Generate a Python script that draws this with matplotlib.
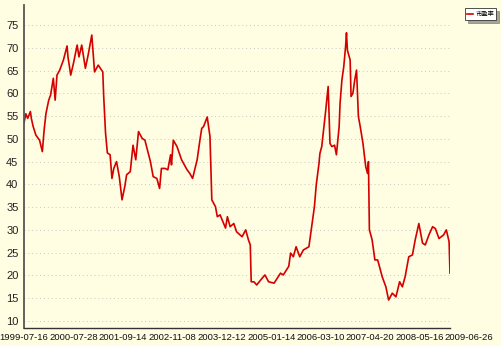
import numpy as np
import matplotlib
matplotlib.use("Agg")
import matplotlib.pyplot as plt

obs = [0, 2, 4, 7, 8, 10, 13, 17, 20, 22, 24, 27, 29, 32, 34, 36, 39, 43, 47, 48,
       51, 54, 58, 60, 63, 67, 70, 74, 77, 81, 86, 87, 89, 91, 94, 96, 98, 101, 104, 107,
       110, 112, 116, 119, 122, 125, 129, 132, 138, 141, 145, 148, 150, 154, 157, 160, 161, 163, 167, 172,
       178, 181, 184, 189, 192, 194, 196, 200, 203, 205, 209, 211, 214, 220, 222, 225, 229, 232, 238, 242,
       245, 247, 248, 251, 254, 260, 263, 267, 273, 280, 283, 289, 291, 294, 297, 301, 305, 311, 314, 317,
       319, 322, 323, 325, 327, 329, 332, 333, 334, 336, 339, 341, 344, 345, 347, 349, 351, 352, 353, 356,
       357, 359, 361, 363, 365, 367, 370, 373, 375, 376, 377, 378, 380, 383, 386, 387, 391, 395, 398, 402,
       406, 410, 413, 416, 420, 424, 427, 431, 435, 438, 442, 446, 449, 453, 458, 461, 464, 465]
pe = [53.5, 55.5, 54.5, 56.0, 54.5, 52.7, 50.8, 49.7, 47.2, 52.0, 55.6, 58.5, 59.6, 63.3, 58.5, 64.0, 65.1, 67.3, 70.4, 68.0,
      64.0, 66.6, 70.6, 68.0, 70.6, 65.5, 68.4, 72.8, 64.7, 66.2, 64.7, 59.3, 51.3, 46.9, 46.5, 41.3, 43.5, 45.0, 41.7, 36.6,
      39.5, 42.1, 42.8, 48.6, 45.4, 51.6, 50.1, 49.7, 45.0, 41.7, 41.3, 39.1, 43.5, 43.5, 43.2, 46.5, 44.3, 49.7, 48.3, 45.4,
      43.2, 42.4, 41.3, 45.4, 49.7, 52.3, 52.7, 54.8, 50.5, 36.6, 35.1, 32.9, 33.3, 30.4, 32.9, 30.7, 31.4, 29.6, 28.5, 30.0,
      27.8, 26.7, 18.6, 18.6, 17.9, 19.4, 20.1, 18.6, 18.3, 20.5, 20.1, 22.0, 24.9, 24.1, 26.3, 24.1, 25.6, 26.3, 30.7, 35.1,
      39.9, 44.6, 46.8, 48.3, 51.9, 55.6, 61.5, 54.9, 49.0, 48.3, 48.6, 46.5, 52.7, 57.8, 62.9, 65.8, 70.2, 73.3, 69.5, 67.3,
      59.3, 60.0, 62.9, 65.1, 54.9, 52.7, 49.0, 43.9, 42.4, 45.0, 30.0, 29.3, 27.8, 23.4, 23.4, 22.7, 19.7, 17.5, 14.6, 16.1,
      15.3, 18.6, 17.5, 19.7, 24.1, 24.5, 27.8, 31.4, 27.1, 26.7, 28.9, 30.7, 30.3, 28.1, 28.9, 30.0, 27.4, 20.5]

date_labels = ["1999-07-16", "2000-07-28", "2001-09-14", "2002-11-08", "2003-12-12",
               "2005-01-14", "2006-03-10", "2007-04-20", "2008-05-16", "2009-06-26"]
label_step = 54  # one date label every 54 observations
y_ticks = [10, 15, 20, 25, 30, 35, 40, 45, 50, 55, 60, 65, 70, 75]

BG = "#fffde2"
FONT = ["Liberation Sans", "DejaVu Sans"]

fig = plt.figure(figsize=(5.01, 3.46), dpi=100, facecolor=BG)
ax = fig.add_axes([24 / 501, 1 - 328 / 346, 426 / 501, 323 / 346], facecolor=BG)

ax.plot(obs, pe, color="#d40000", lw=1.2)

ax.set_xlim(0, obs[-1])
ax.set_ylim(8.45, 79.4)
ax.set_yticks(y_ticks)
ax.set_yticklabels([str(t) for t in y_ticks], family=FONT, fontsize=8, color="#222222")
ax.tick_params(axis="y", length=0, pad=4)
ax.set_xticks([])
ax.grid(axis="y", color="#c8c8c0", lw=0.7, ls=(0, (1, 3)))

for s in ("top", "right"):
    ax.spines[s].set_visible(False)
ax.spines["left"].set_color("#555555")
ax.spines["left"].set_linewidth(1.3)
ax.spines["bottom"].set_color("#333333")
ax.spines["bottom"].set_linewidth(1.0)

# date labels are evenly spaced by observation count, the last one falls past the data
for k, lab in enumerate(date_labels):
    ax.text(k * label_step, -0.017, lab, transform=ax.get_xaxis_transform(),
            ha="center", va="top", fontsize=6.8, family=FONT, color="#111111",
            clip_on=False)

leg = fig.legend(["市盈率"], loc="upper right", bbox_to_anchor=(0.997, 0.985),
                 prop={"family": ["Noto Sans CJK SC", "DejaVu Sans"], "size": 4.5},
                 handlelength=1.0, handletextpad=0.4, borderpad=0.3,
                 frameon=True, fancybox=False, shadow=True, framealpha=1)
leg.get_frame().set_edgecolor("#333333")
leg.get_frame().set_linewidth(0.6)
leg.get_frame().set_facecolor("white")

fig.savefig("out.png", dpi=100, facecolor=BG)
